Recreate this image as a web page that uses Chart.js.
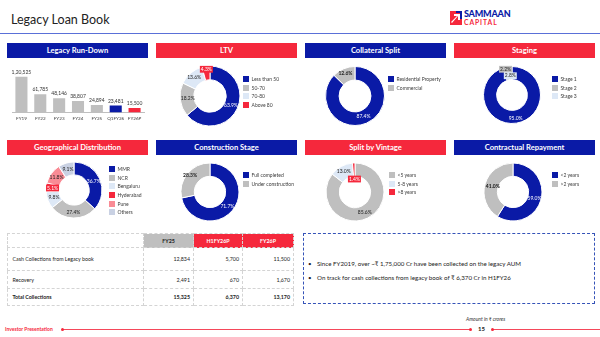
<!DOCTYPE html>
<html><head><meta charset="utf-8">
<script src="https://cdn.jsdelivr.net/npm/chart.js@4/dist/chart.umd.min.js"></script>
<style>
body{margin:0;width:600px;height:337px;overflow:hidden;position:relative;background:#fff;font-family:Lato,"Noto Sans","DejaVu Sans",sans-serif;}
.abs{position:absolute;}
.hdr{position:absolute;height:15px;width:141px;color:#fff;font-size:7.6px;font-weight:700;text-align:center;line-height:15px;white-space:nowrap;}
.blue{background:#0a1aa6}
.red{background:#f5283c}
.leg{position:absolute;font-size:5px;color:#404040;white-space:nowrap;}
.leg .row{height:8.7px;display:flex;align-items:center;}
.leg .sw{width:6px;height:6px;margin-right:2.5px;display:inline-block;flex:none}
canvas{position:absolute}
table{border-collapse:collapse;font-size:5.3px;color:#222;table-layout:fixed}
td{border:1px dashed #d4d4d4;padding:0 3px;}
.box{position:absolute;left:303px;top:233px;width:290px;height:69px;border:1px dashed #3553b8;}
.bl{position:absolute;font-size:6.2px;color:#222;white-space:nowrap;}
</style></head>
<body>
<div class="abs" style="left:11px;top:12px;font-size:12.5px;color:#222;">Legacy Loan Book</div>
<svg class="abs" style="left:450px;top:11px" width="13" height="15" viewBox="0 0 13 15">
<rect x="0" y="0" width="12" height="14" fill="#f5283c"/>
<polygon points="2,12 8,5 8,9 10,9 10,3 4,3 4,5 7,5 1,11" fill="#fff"/>
<polygon points="6,0 12,0 12,8 10,8 10,2 6,2" fill="#0a1aa6"/>
</svg>
<div class="abs" style="left:464px;top:8px;font-size:9px;font-weight:900;color:#0a1aa6;letter-spacing:-0.2px">SAMMAAN</div>
<div class="abs" style="left:464px;top:18px;font-size:6.8px;font-weight:700;color:#f5283c;letter-spacing:0.9px">CAPITAL</div>
<div class="abs" style="left:0;top:33px;width:600px;height:1px;background:#5a70d8"></div>

<div class="hdr blue" style="left:7px;top:43px">Legacy Run-Down</div>
<div class="hdr red" style="left:156px;top:43px">LTV</div>
<div class="hdr blue" style="left:305px;top:43px">Collateral Split</div>
<div class="hdr red" style="left:454px;top:43px">Staging</div>
<div class="hdr red" style="left:7px;top:140px">Geographical Distribution</div>
<div class="hdr blue" style="left:156px;top:140px">Construction Stage</div>
<div class="hdr red" style="left:305px;top:140px">Split by Vintage</div>
<div class="hdr blue" style="left:454px;top:140px">Contractual Repayment</div>

<canvas id="bar" width="146" height="64" style="left:4px;top:60px"></canvas>
<canvas id="ltv" width="80" height="80"></canvas>
<canvas id="coll" width="80" height="80"></canvas>
<canvas id="stage" width="80" height="80"></canvas>
<canvas id="geo" width="80" height="80"></canvas>
<canvas id="cons" width="80" height="80"></canvas>
<canvas id="vin" width="80" height="80"></canvas>
<canvas id="rep" width="80" height="80"></canvas>

<div id="tbl" class="abs" style="left:7px;top:233px"></div>

<div class="box"></div>
<div class="bl" style="left:308px;top:260px">•</div>
<div class="bl" style="left:317px;top:260px">Since FY2019, over ~₹ 1,75,000 Cr have been collected on the legacy AUM</div>
<div class="bl" style="left:308px;top:274px">•</div>
<div class="bl" style="left:317px;top:274px">On track for cash collections from legacy book of ₹ 6,370 Cr in H1FY26</div>

<div class="abs" style="left:466px;top:316px;font-size:5px;font-style:italic;color:#333">Amount in ₹ crores</div>
<div class="abs" style="left:5px;top:326px;font-size:5px;font-weight:700;color:#f5283c">Investor Presentation</div>
<div class="abs" style="left:62px;top:329px;width:408px;height:1px;background:#f5475a"></div>
<div class="abs" style="left:61px;top:328px;width:3px;height:3px;border-radius:2px;background:#f5283c"></div>
<div class="abs" style="left:469px;top:328px;width:3px;height:3px;border-radius:2px;background:#f5283c"></div>
<div class="abs" style="left:478px;top:325px;font-size:6px;font-weight:700;color:#222">15</div>
<div class="abs" style="left:492px;top:329px;width:108px;height:1px;background:#f5475a"></div>
<div class="abs" style="left:491px;top:328px;width:3px;height:3px;border-radius:2px;background:#f5283c"></div>

<script>
// ---------- DATA ----------
const runCats=['FY19','FY22','FY23','FY24','FY25','Q1FY26','FY26P'];
const runVals=[120525,61785,48146,38807,24894,23481,15500];

const ltvLabels=['Less than 50','50-70','70-80','Above 80'];
const ltvVals=[63.9,18.2,13.6,4.3];
const collLabels=['Residential Property','Commercial'];
const collVals=[87.4,12.6];
const stageLabels=['Stage 1','Stage 2','Stage 3'];
const stageVals=[95.0,2.2,2.8];
const geoLabels=['MMR','NCR','Bengaluru','Hyderabad','Pune','Others'];
const geoVals=[36.7,27.4,9.8,5.1,11.8,9.1];
const consLabels=['Full completed','Under construction'];
const consVals=[71.7,28.3];
const vinLabels=['<5 years','5-8 years','>8 years'];
const vinVals=[85.6,13.0,1.4];
const repLabels=['<2 years','>2 years'];
const repVals=[59.0,41.0];

const tblRows=['Cash Collections from Legacy book','Recovery','Total Collections'];
const tblCols=['FY25','H1FY26P','FY26P'];
const fy25=[12834,2491,15325];
const h1fy26p=[5700,670,6370];
const fy26p=[11500,1670,13170];

// ---------- STYLE ----------
const BLUE='#0a1aa6',GRAY='#bfbfbf',LIGHT='#dde8f6',RED='#f5283c',PINK='#f98b95',OTH='#c9d1e3';
Chart.defaults.font.family='Lato, "Noto Sans", "DejaVu Sans", sans-serif';
Chart.defaults.animation=false;

function inr(n){const s=String(n);if(s.length<=3)return s;const last=s.slice(-3);let rest=s.slice(0,-3);const parts=[];while(rest.length>2){parts.unshift(rest.slice(-2));rest=rest.slice(0,-2);}if(rest)parts.unshift(rest);return parts.join(',')+','+last;}

const barLabels={id:'barLabels',afterDatasetsDraw(chart){const ctx=chart.ctx;const meta=chart.getDatasetMeta(0);ctx.save();ctx.font='5px '+Chart.defaults.font.family;ctx.fillStyle='#333';ctx.textAlign='center';ctx.textBaseline='bottom';meta.data.forEach((b,i)=>{ctx.fillText(inr(chart.data.datasets[0].data[i]),b.x,b.y-2);});ctx.restore();}};

new Chart(document.getElementById('bar'),{type:'bar',
 data:{labels:runCats,datasets:[{data:runVals,backgroundColor:[GRAY,GRAY,GRAY,GRAY,GRAY,BLUE,RED],categoryPercentage:1,barPercentage:0.64}]},
 options:{responsive:false,layout:{padding:{left:8,right:6,top:8,bottom:0}},
  plugins:{legend:{display:false},tooltip:{enabled:false}},
  scales:{y:{display:false,min:0,max:150000},
   x:{grid:{display:false,drawTicks:false},border:{display:true,color:'#bfbfbf',width:1},
      ticks:{font:{size:4.6},color:'#404040',padding:3,maxRotation:0,autoSkip:false}}}},
 plugins:[barLabels]});

const arcLabels={id:'arcLabels',afterDatasetsDraw(chart,args,o){const ctx=chart.ctx;const meta=chart.getDatasetMeta(0);const ds=chart.data.datasets[0];ctx.save();
 meta.data.forEach((arc,i)=>{const p=arc.getProps(['x','y','startAngle','endAngle','innerRadius','outerRadius'],true);
  const st=(o.styles&&o.styles[i])||{};const f=st.f!=null?st.f:0.5;const a=(p.startAngle+p.endAngle)/2;
  const r=p.innerRadius+(p.outerRadius-p.innerRadius)*f;const px=p.x+Math.cos(a)*r,py=p.y+Math.sin(a)*r;
  const txt=ds.data[i].toFixed(1)+'%';ctx.font=(st.bold?'700 ':'')+'5px '+Chart.defaults.font.family;
  const w=ctx.measureText(txt).width;
  if(st.bg){ctx.fillStyle=st.bg;ctx.fillRect(px-w/2-1,py-3.4,w+2,6.8);}
  ctx.fillStyle=st.color||'#222';ctx.textAlign='center';ctx.textBaseline='middle';ctx.fillText(txt,px,py);});
 ctx.restore();}};

function donut(id,labels,vals,colors,cx,cy,r,styles,lx,ly){
 const cv=document.getElementById(id);cv.style.left=(cx-40)+'px';cv.style.top=(cy-40)+'px';
 new Chart(cv,{type:'doughnut',data:{labels:labels,datasets:[{data:vals,backgroundColor:colors,borderColor:'#fff',borderWidth:1,radius:r,cutout:'54%'}]},
  options:{responsive:false,plugins:{legend:{display:false},tooltip:{enabled:false},arcLabels:{styles:styles}}},plugins:[arcLabels]});
 const lg=document.createElement('div');lg.className='leg';lg.style.left=lx+'px';lg.style.top=(ly-4.35)+'px';
 labels.forEach((l,i)=>{const row=document.createElement('div');row.className='row';const sw=document.createElement('span');sw.className='sw';sw.style.background=colors[i];row.appendChild(sw);row.appendChild(document.createTextNode(l));lg.appendChild(row);});
 document.body.appendChild(lg);}

const S=(color,f,extra)=>Object.assign({color:color,f:f},extra||{});
donut('ltv',ltvLabels,ltvVals,[BLUE,GRAY,LIGHT,RED],210,96,30,[S('#fff',0.5),S('#222',0.45),S('#222',0.62),S('#fff',0.78,{bg:RED})],243,79);
donut('coll',collLabels,collVals,[BLUE,GRAY],354.5,95.5,29.5,[S('#fff',0.45),S('#222',0.65,{bold:true})],388,79);
donut('stage',stageLabels,stageVals,[BLUE,GRAY,LIGHT],511.5,94.5,28.5,[S('#fff',0.6),S('#222',0.85,{bg:GRAY}),S('#222',0.3,{bg:LIGHT})],552,79);
donut('geo',geoLabels,geoVals,[BLUE,GRAY,LIGHT,RED,PINK,OTH],74,190,28,[S('#fff',0.5),S('#222',0.6),S('#222',0.5),S('#fff',0.5,{bg:RED}),S('#222',0.5),S('#222',0.5)],109,169);
donut('cons',consLabels,consVals,[BLUE,GRAY],209.5,192,29,[S('#fff',0.5),S('#222',0.75,{bold:true})],243,175);
donut('vin',vinLabels,vinVals,[GRAY,LIGHT,RED],354.5,191.7,29,[S('#222',0.5),S('#222',0.6),S('#fff',-0.2,{bg:RED})],389,175);
donut('rep',repLabels,repVals,[BLUE,GRAY],513,191.7,29,[S('#fff',0.5),S('#111',0.4,{bold:true})],552,175);

// ---------- TABLE ----------
(function(){const widths=[136,50,49,51],heights=[14,23,18,17];const cols=[fy25,h1fy26p,fy26p];
 let h='<table style="width:286px">';h+='<colgroup>'+widths.map(w=>'<col style="width:'+w+'px">').join('')+'</colgroup>';
 h+='<tr style="height:'+heights[0]+'px"><td></td>'+tblCols.map((c,j)=>'<td style="text-align:center;font-weight:700;'+(j===0?'background:#bfbfbf;color:#222':'background:'+RED+';color:#fff')+'">'+c+'</td>').join('')+'</tr>';
 tblRows.forEach((rname,i)=>{const b=i===2?'font-weight:700;':'';h+='<tr style="height:'+heights[i+1]+'px"><td style="padding-left:4.5px;'+b+'">'+rname+'</td>'+cols.map(c=>'<td style="text-align:right;'+b+'">'+c[i].toLocaleString('en-US')+'</td>').join('')+'</tr>';});
 h+='</table>';document.getElementById('tbl').innerHTML=h;})();
</script>
</body></html>
